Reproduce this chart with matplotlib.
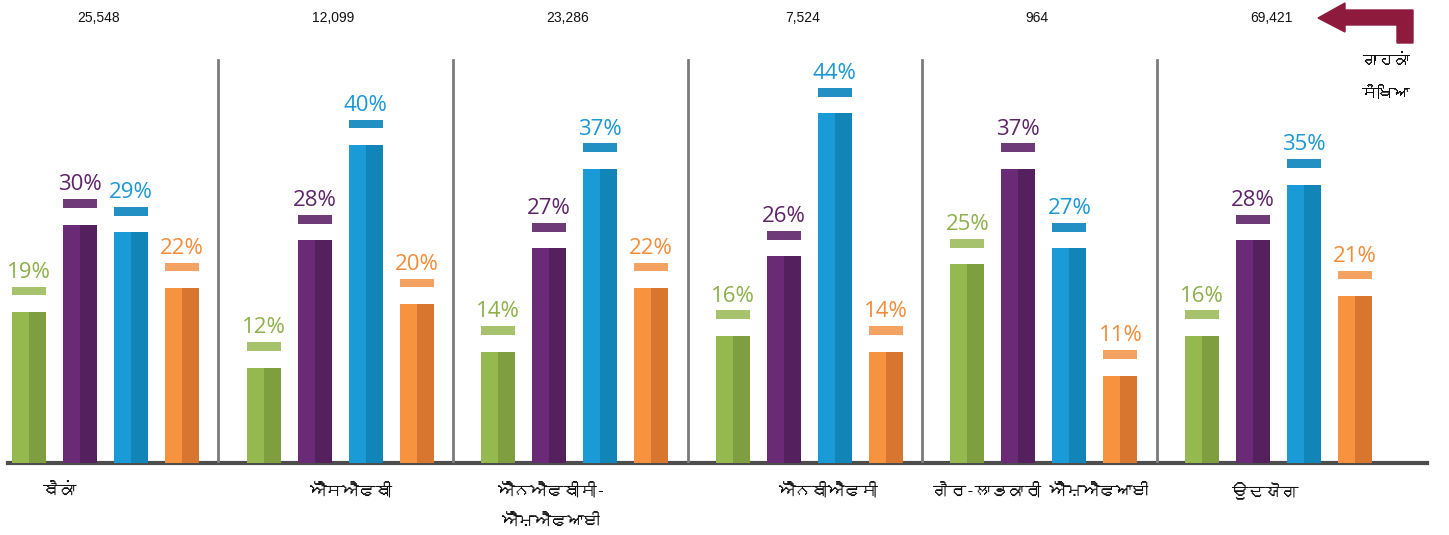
import matplotlib.pyplot as plt
from matplotlib import font_manager
from matplotlib.patches import Polygon
from fontTools.ttLib import TTFont

# data
categories = ["ਬੈਂਕਾਂ", "ਐੱਸਐਫਬੀ", "ਐੱਨਐਫਬੀਸੀ-\nਐੱਮਐਫਆਈ", "ਐੱਨਬੀਐਫਸੀ",
              "ਗੈਰ-ਲਾਭਕਾਰੀ ਐੱਮਐਫਆਈ", "ਉਦਯੋਗ"]
customers = ["25,548", "12,099", "23,286", "7,524", "964", "69,421"]
green_vals = [19, 12, 14, 16, 25, 16]
purple_vals = [30, 28, 27, 26, 37, 28]
blue_vals = [29, 40, 37, 44, 27, 35]
orange_vals = [22, 20, 22, 14, 11, 21]
corner_text = "ਗਾਹਕਾਂ\nਸੰਖਿਆ"

series = [green_vals, purple_vals, blue_vals, orange_vals]
# (text colour, light half, dark half, dash colour)
styles = [("#8db04a", "#95b84f", "#7f9e3f", "#a6c26c"),
          ("#5e2468", "#6a2a75", "#55205e", "#6e3a78"),
          ("#1b97d3", "#1a9ad6", "#1184b8", "#2290c2"),
          ("#f28c3a", "#f7933f", "#d8752e", "#f4a262")]

# label x offsets inside each group (layout)
cat_offsets = [0.205, 0.443, 0.298, 0.48, 0.388, 0.341]


def find_font(ch):
    for f in font_manager.fontManager.ttflist:
        try:
            cmap = TTFont(f.fname, fontNumber=0, lazy=True).getBestCmap()
        except Exception:
            continue
        if cmap and ord(ch) in cmap:
            return f.name
    return None


gur = find_font("ਬ")
gur_family = [gur, "DejaVu Sans"] if gur else ["DejaVu Sans"]
num_family = ["Open Sans", "DejaVu Sans"]

W, H = 1449, 535
fig = plt.figure(figsize=(W / 100, H / 100), dpi=100)
base_px = 463
px_per_pct = 7.95
ax = fig.add_axes([0, (H - base_px) / H, 1, base_px / H])
group_px = 234.6
x0_px = 12
ax.set_xlim(-x0_px / group_px, (W - x0_px) / group_px)
ax.set_ylim(0, base_px / px_per_pct)
ax.axis("off")

step = 51 / group_px
width = 34 / group_px

for j, vals in enumerate(series):
    tcol, light, dark, dcol = styles[j]
    for g, v in enumerate(vals):
        left = g + j * step
        ax.bar(left, v, width=width, align="edge", color=light, zorder=2)
        ax.bar(left + width / 2, v, width=width / 2, align="edge", color=dark, zorder=2)
        ax.bar(left, 1.1, bottom=v + 2.1, width=width, align="edge", color=dcol, zorder=2)
        ax.text(left + width / 2, v + 5.0, f"{v}%", ha="center", va="center",
                fontsize=16, color=tcol, family=num_family)

# baseline and group separators
ax.plot([-0.017, 6.03], [0, 0], color="#4d4d4d", lw=3, zorder=1, clip_on=False)
for g in range(1, len(categories)):
    ax.plot([g - 0.12, g - 0.12], [0, 50.7], color="#7a7a7a", lw=2, zorder=1)

# customer counts on top
for g, c in enumerate(customers):
    ax.text(g + 0.37, 56.0, c, ha="center", va="center", fontsize=10,
            family=["Liberation Sans", "DejaVu Sans"], color="#111111")

# category labels under baseline
for g, name in enumerate(categories):
    ax.text(g + cat_offsets[g], -2.4, name, ha="center", va="top", fontsize=12,
            family=gur_family, color="#111111", linespacing=2.2, clip_on=False)

# bent arrow at top right
pts_px = [(1318, 18), (1345, 3), (1345, 10), (1413, 10), (1413, 43),
          (1397, 43), (1397, 25), (1345, 25), (1345, 32)]
arrow = Polygon([(x / W, 1 - y / H) for x, y in pts_px], closed=True,
                transform=fig.transFigure, color="#8e1b3e")
fig.add_artist(arrow)
fig.text(1410 / W, 1 - 53 / H, corner_text, ha="right", va="top", fontsize=11.5,
         family=gur_family, color="#111111", linespacing=2.3)

fig.savefig("out.png", dpi=100)
